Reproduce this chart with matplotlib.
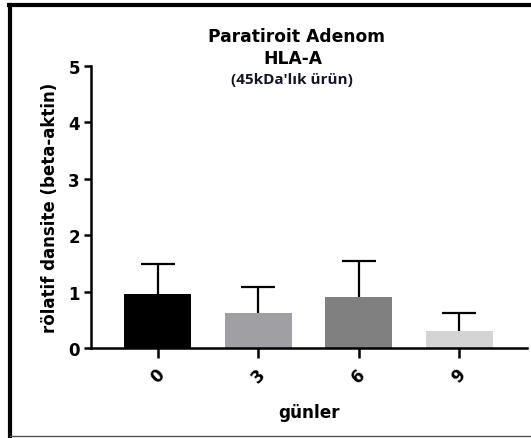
import matplotlib
matplotlib.use("Agg")
import matplotlib.pyplot as plt
from matplotlib.lines import Line2D

# values
days = ["0", "3", "6", "9"]
means = [0.96, 0.62, 0.91, 0.31]
sd_upper = [0.53, 0.47, 0.63, 0.32]
bar_colors = ["#000000", "#A0A0A4", "#808080", "#D4D4D4"]

plt.rcParams['font.family'] = ['DejaVu Sans']

fig = plt.figure(figsize=(5.31, 4.39), dpi=100)
ax = fig.add_axes([0.1714, 0.2039, 0.8211, 0.6435])

x = list(range(len(days)))
ax.bar(x, means, width=0.666, color=bar_colors, zorder=2)
eb = ax.errorbar(x, means, yerr=[[0] * len(means), sd_upper], fmt='none',
                 ecolor='black', elinewidth=1.6, capsize=12, capthick=1.6, zorder=3)
# only the upper cap is drawn
eb[1][0].set_visible(False)

ax.set_xlim(-0.664, 3.675)
ax.set_ylim(0, 5)
ax.set_yticks([0, 1, 2, 3, 4, 5])
ax.set_xticks(x)
ax.set_xticklabels(days, rotation=45, ha='center', va='top')

for s in ['top', 'right']:
    ax.spines[s].set_visible(False)
for s in ['left', 'bottom']:
    ax.spines[s].set_linewidth(1.8)
    ax.spines[s].set_zorder(4)

ax.tick_params(axis='y', length=5, width=1.8, labelsize=12, pad=3)
ax.tick_params(axis='x', length=7, width=1.8, labelsize=12, pad=5)
for lab in ax.get_xticklabels() + ax.get_yticklabels():
    lab.set_fontweight('bold')

ax.set_ylabel("rölatif dansite (beta-aktin)", fontsize=12, fontweight='bold', labelpad=7)
ax.set_xlabel("günler", fontsize=12.2, fontweight='bold', labelpad=12)

fig.text(296 / 531, 1 - 37 / 439, "Paratiroit Adenom", ha='center', va='center',
         fontsize=12.3, fontweight='bold')
fig.text(293 / 531, 1 - 59 / 439, "HLA-A", ha='center', va='center',
         fontsize=12.3, fontweight='bold')
fig.text(292 / 531, 1 - 80 / 439, "(45kDa'lık ürün)", ha='center', va='center',
         fontsize=11, fontweight='bold', family=['Open Sans', 'DejaVu Sans'], color='#141428')

# frame round the figure (left, top, bottom)
fig.add_artist(Line2D([10 / 531, 10 / 531], [1 - 6 / 439, 1 - 437 / 439],
                      transform=fig.transFigure, color='black', lw=3))
fig.add_artist(Line2D([8.5 / 531, 1], [1 - 6 / 439, 1 - 6 / 439],
                      transform=fig.transFigure, color='black', lw=3))
fig.add_artist(Line2D([10 / 531, 1], [1 - 437 / 439, 1 - 437 / 439],
                      transform=fig.transFigure, color='#555555', lw=1))

fig.savefig("out.png", dpi=100)
